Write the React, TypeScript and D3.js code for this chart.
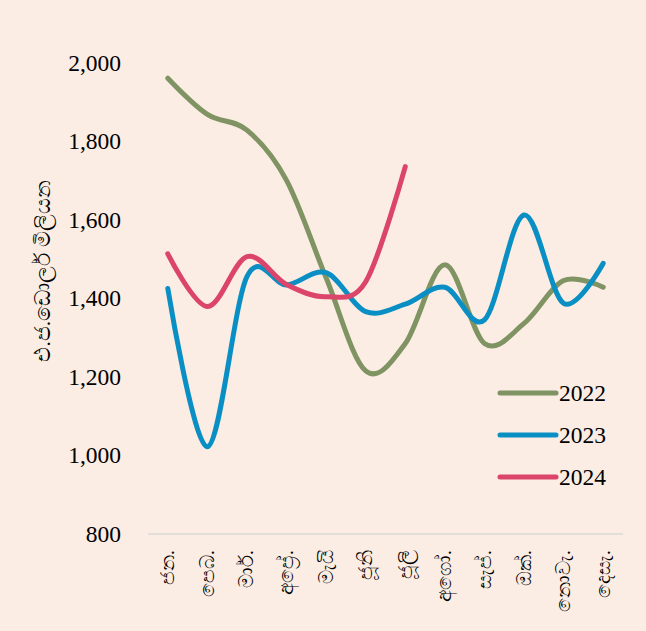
import React from "react";
import * as d3 from "d3";

const months = ["ජන.", "පෙබ.", "මාර්.", "අප්‍රේ.", "මැයි", "ජූනි", "ජූලි", "අගෝ.", "සැප්.", "ඔක්.", "නොවැ.", "දෙසැ."];
const v2022 = [1960, 1868, 1828, 1700, 1452, 1215, 1285, 1485, 1285, 1336, 1445, 1428];
const v2023 = [1425, 1022, 1455, 1434, 1465, 1366, 1385, 1428, 1345, 1612, 1387, 1489];
const v2024 = [1513, 1379, 1506, 1435, 1404, 1442, 1735];
const yTicks = [800, 1000, 1200, 1400, 1600, 1800, 2000];
const seriesNames = ["2022", "2023", "2024"];
const seriesColors = ["#7f9462", "#0a8fc4", "#dc456b"];
const yTitle = "එ.ජ.ඩොලර් මිලියන";

const W = 646, H = 631;

export default function App() {
  const x = d3.scaleBand<string>().domain(months).range([148, 623]);
  const cx = (m: string) => (x(m) as number) + x.bandwidth() / 2;
  const y = d3.scaleLinear().domain([800, 2000]).range([534, 62.5]);
  const line = d3
    .line<number>()
    .x((_, i) => cx(months[i]))
    .y((d) => y(d))
    .curve(d3.curveCardinal.tension(0));
  const series = [v2022, v2023, v2024];
  const font = "'Liberation Serif', 'Times New Roman', serif";
  return (
    <svg width={W} height={H} style={{ position: "absolute", left: 0, top: 0 }} fontFamily={font}>
      <rect x={0} y={0} width={W} height={H} fill="#fbede4" />
      <line x1={148} x2={623} y1={y(800)} y2={y(800)} stroke="#d9d9d9" strokeWidth={1.5} />
      {yTicks.map((t) => (
        <text key={t} x={121} y={y(t)} textAnchor="end" dominantBaseline="central" fontSize={23.5} fill="#000">
          {d3.format(",")(t)}
        </text>
      ))}
      <text
        transform={`translate(43,271) rotate(-90)`}
        textAnchor="middle"
        dominantBaseline="central"
        fontSize={21.5}
        fill="#000"
      >
        {yTitle}
      </text>
      {months.map((m) => (
        <text
          key={m}
          transform={`translate(${cx(m)},550) rotate(-90)`}
          textAnchor="end"
          dominantBaseline="central"
          fontSize={19.5}
          fill="#000"
        >
          {m}
        </text>
      ))}
      {series.map((s, i) => (
        <path key={i} d={line(s) as string} fill="none" stroke={seriesColors[i]} strokeWidth={5} strokeLinecap="round" />
      ))}
      {seriesNames.map((n, i) => {
        const ly = 393 + i * 42;
        return (
          <g key={n}>
            <line x1={500} x2={556} y1={ly} y2={ly} stroke={seriesColors[i]} strokeWidth={5} strokeLinecap="round" />
            <text x={559} y={ly} dominantBaseline="central" fontSize={23.5} fill="#000">
              {n}
            </text>
          </g>
        );
      })}
    </svg>
  );
}
